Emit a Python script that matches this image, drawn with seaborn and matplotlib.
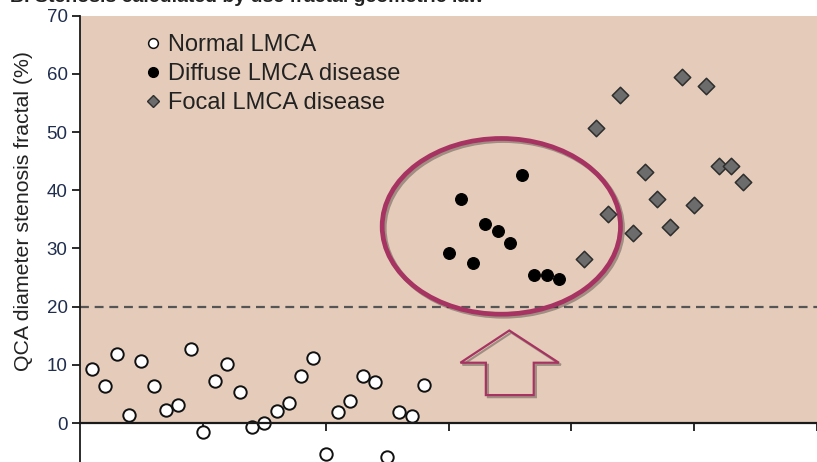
import numpy as np
import pandas as pd
import matplotlib
matplotlib.use("Agg")
import matplotlib.pyplot as plt
import matplotlib.patheffects as pe
from matplotlib.patches import Ellipse, Polygon
from matplotlib.lines import Line2D
import seaborn as sns

# ---------------- data ----------------
normal_x = list(range(1, 29))
normal_y = [9.3, 6.4, 11.8, 1.4, 10.6, 6.4, 2.3, 3.1, 12.8, -1.5,
            7.3, 10.1, 5.4, -0.7, 0.0, 2.1, 3.4, 8.0, 11.2, -5.3,
            1.9, 3.7, 8.1, 7.0, -5.8, 1.9, 1.2, 6.6]
diffuse_x = list(range(30, 40))
diffuse_y = [29.2, 38.5, 27.5, 34.2, 33.0, 31.0, 42.6, 25.4, 25.5, 24.8]
focal_x = list(range(41, 55))
focal_y = [28.2, 50.7, 36.0, 56.3, 32.7, 43.2, 38.5, 33.7, 59.5, 37.5,
           58.0, 44.2, 44.1, 41.4]
groups = ["Normal LMCA", "Diffuse LMCA disease", "Focal LMCA disease"]
yticks = [0, 10, 20, 30, 40, 50, 60, 70]
xticks = [10, 20, 30, 40, 50, 60]
cutoff = 20
title = "B. Stenosis calculated by use fractal geometric law"
ylabel = "QCA diameter stenosis fractal (%)"

df = pd.concat([
    pd.DataFrame({"x": normal_x, "y": normal_y, "group": groups[0]}),
    pd.DataFrame({"x": diffuse_x, "y": diffuse_y, "group": groups[1]}),
    pd.DataFrame({"x": focal_x, "y": focal_y, "group": groups[2]}),
])

# ---------------- style ----------------
sns.set_style("ticks")
plt.rcParams["font.family"] = ["Liberation Sans", "DejaVu Sans"]

W, H = 817, 462
fig = plt.figure(figsize=(W / 100, H / 100), dpi=100)
left_px, top_px = 80.0, 15.7
ax = fig.add_axes([left_px / W, 0, 1 - left_px / W, (H - top_px) / H])
ax.set_xlim(0, (W - left_px) / 12.4)
ax.set_ylim(-6.7, 70)
ax.set_facecolor("white")

shade = "#E5CCBA"
ax.axhspan(0, 70, color=shade, zorder=0, lw=0)

ax.axhline(cutoff, color="#555555", lw=1.6, ls=(0, (4, 2.6)), zorder=1)

styles = {
    groups[0]: dict(marker="o", color="white", edgecolor="#111111", s=80, linewidth=1.4),
    groups[1]: dict(marker="o", color="black", edgecolor="black", s=72, linewidth=0.8),
    groups[2]: dict(marker="D", color="#6C6C6C", edgecolor="#2E2E2E", s=70, linewidth=1.1),
}
for g in groups:
    sns.scatterplot(data=df[df["group"] == g], x="x", y="y", ax=ax, zorder=4,
                    legend=False, **styles[g])

# ellipse highlight and arrow
accent = "#A63361"
shadow = [pe.SimpleLineShadow(offset=(1.5, -1.5), shadow_color="black", alpha=0.3),
          pe.Normal()]
ell = Ellipse((34.3, 33.8), 19.4, 30.2, fill=False, edgecolor=accent, lw=3.4,
              zorder=3, path_effects=shadow)
ax.add_patch(ell)
arrow = Polygon([(34.95, 15.9), (38.98, 10.36), (36.94, 10.36), (36.94, 4.8),
                 (33.04, 4.8), (33.04, 10.36), (30.97, 10.36)], closed=True,
                fill=False, edgecolor=accent, lw=1.6, zorder=3, path_effects=shadow)
ax.add_patch(arrow)

# spines and ticks
sns.despine(ax=ax, top=True, right=True)
ax.spines["bottom"].set_position(("data", 0))
ax.spines["bottom"].set_linewidth(1.6)
ax.spines["bottom"].set_color("#1a1a1a")
ax.spines["left"].set_linewidth(1.3)
ax.spines["left"].set_color("#1a1a1a")
ax.spines["left"].set_zorder(5)
ax.spines["bottom"].set_zorder(5)
ax.set_yticks(yticks)
ax.set_xticks(xticks)
ax.tick_params(axis="x", direction="out", length=6, width=1.3, labelbottom=False,
               color="#1a1a1a")
ax.tick_params(axis="y", direction="out", length=6, width=1.3, pad=3,
               color="#1a1a1a", labelcolor="#1f2d4f")
for lab in ax.get_yticklabels():
    lab.set_fontsize(13.5)
ax.set_xlabel("")
ax.set_ylabel("")

fig.text(24 / W, 1 - 211 / H, ylabel, rotation=90, ha="center", va="center",
         fontsize=15.3, color="#222222")
fig.text(10 / W, 1 - 2 / H, title, ha="left", va="baseline", fontsize=14,
         fontweight="bold", color="#222222")

handles = [
    Line2D([], [], ls="none", marker="o", markersize=7, markerfacecolor="white",
           markeredgecolor="#111111", markeredgewidth=1.1),
    Line2D([], [], ls="none", marker="o", markersize=7, markerfacecolor="black",
           markeredgecolor="black"),
    Line2D([], [], ls="none", marker="D", markersize=6.5, markerfacecolor="#6C6C6C",
           markeredgecolor="#2E2E2E", markeredgewidth=1.0),
]
leg = ax.legend(handles, groups, loc="upper left", frameon=False, fontsize=17,
                handlelength=0.6, handletextpad=0.35, labelspacing=0.3,
                borderaxespad=0, bbox_to_anchor=(136 / W, 1 - 24.5 / H),
                bbox_transform=fig.transFigure)
for t in leg.get_texts():
    t.set_color("#222222")

fig.savefig("out.png", dpi=100)
